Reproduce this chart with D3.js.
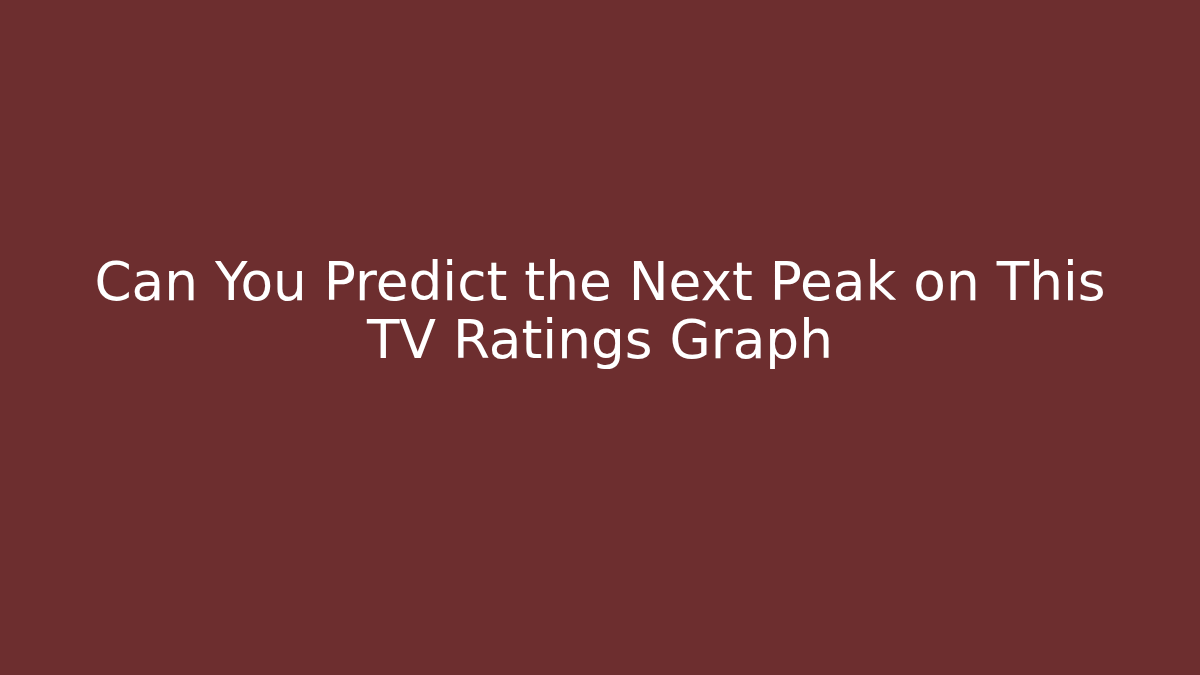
<!DOCTYPE html>
<html>
<head>
<meta charset="utf-8">
<script src="https://cdn.jsdelivr.net/npm/d3@7"></script>
<style>
  html, body { margin: 0; padding: 0; background: #6d2e2f; }
</style>
</head>
<body>
<div class="card"></div>
<script>
// title card: two lines of text, nothing else
var titleLines = ["Can You Predict the Next Peak on This", "TV Ratings Graph"];

var svgWidth = 1200;
var svgHeight = 675;

var svg = d3.select(".card")
  .append("svg")
  .attr("width", svgWidth)
  .attr("height", svgHeight)
  .style("display", "block");

svg.append("rect")
  .attr("width", svgWidth)
  .attr("height", svgHeight)
  .attr("fill", "#6d2e2f");

// baselines of the two lines
var yScale = d3.scalePoint()
  .domain(d3.range(titleLines.length))
  .range([300, 358]);

svg.selectAll("text.title")
  .data(titleLines)
  .enter()
  .append("text")
  .attr("class", "title")
  .attr("x", svgWidth / 2)
  .attr("y", (d, i) => yScale(i))
  .attr("text-anchor", "middle")
  .attr("fill", "#ffffff")
  .style("font-family", "'DejaVu Sans', sans-serif")
  .style("font-size", "53.3px")
  .text(d => d);
</script>
</body>
</html>
